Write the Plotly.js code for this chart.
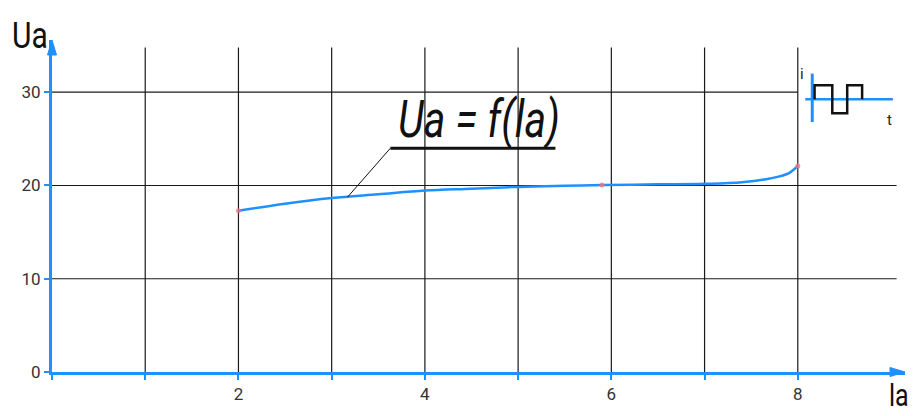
<!DOCTYPE html>
<html>
<head>
<meta charset="utf-8">
<script src="https://cdn.plot.ly/plotly-3.0.1.min.js"></script>
<style>
  html, body { margin: 0; padding: 0; background: #fff; }
  #chart { width: 915px; height: 416px; }
  /* tall, narrow lettering in the style of drafting type */
  .tall text.annotation-text {
    transform-box: fill-box;
    transform-origin: center;
    transform: scaleY(1.25);
  }
</style>
</head>
<body>
<div id="chart"></div>
<script>
// Anode voltage vs anode current characteristic
const currentIa = [2, 2.5, 3, 3.5, 4, 4.5, 5, 5.5, 5.9, 6.5, 7, 7.4, 7.7, 7.9, 8];
const voltageUa = [17.3, 18.05, 18.65, 19.05, 19.45, 19.65, 19.85, 19.97, 20.05, 20.12, 20.18, 20.35, 20.75, 21.3, 22.1];

// measured points marked on the curve
const pointIa = [2, 5.9, 8];
const pointUa = [17.3, 20.05, 22.1];

// axis ticks
const xTickVals = [0, 1, 2, 3, 4, 5, 6, 7, 8];
const xTickText = ['', '', '2', '', '4', '', '6', '', '8'];
const yTickVals = [0, 10, 20, 30];
const yTickText = ['0', '10', '20', '30'];

const BLUE = 'rgb(30,144,255)';
const FONT = 'Roboto, "Noto Sans", sans-serif';

const W = 915, H = 416;
const M = {l: 52, r: 10, t: 40, b: 44};
const X_MAX = 9.15, Y_MAX = 35.6;
const GRID_TOP = 34.8, GRID_RIGHT = 9.06;

// one screen pixel in paper units
const PX = 1 / (W - M.l - M.r);
const PY = 1 / (H - M.t - M.b);

const shapes = [];

// vertical grid lines
xTickVals.filter(v => v > 0).forEach(v => {
  shapes.push({type: 'line', xref: 'x', yref: 'y', x0: v, x1: v, y0: 0, y1: GRID_TOP,
    line: {color: '#1a1a1a', width: 1.2}, layer: 'below'});
});
// horizontal grid lines (top one stops at the inset)
yTickVals.filter(v => v > 0).forEach(v => {
  shapes.push({type: 'line', xref: 'x', yref: 'y', x0: 0, x1: v === 30 ? 8 : GRID_RIGHT, y0: v, y1: v,
    line: {color: '#1a1a1a', width: 1.2}, layer: 'below'});
});

// arrow heads at the ends of both axes (paper refs so they are not clipped)
const HW = 4.5, HL = 15;
const yHead = `M0,1 L${-HW * PX},${1 - HL * PY} L${HW * PX},${1 - HL * PY} Z`;
const xHead = `M1,0 L${1 - HL * PX},${HW * PY} L${1 - HL * PX},${-HW * PY} Z`;
shapes.push({type: 'path', xref: 'paper', yref: 'paper', path: yHead,
  fillcolor: BLUE, line: {color: BLUE, width: 1}});
shapes.push({type: 'path', xref: 'paper', yref: 'paper', path: xHead,
  fillcolor: BLUE, line: {color: BLUE, width: 1}});

// formula underline and leader to the curve
shapes.push({type: 'line', xref: 'x', yref: 'y', x0: 3.63, x1: 5.40, y0: 24.0, y1: 24.0,
  line: {color: '#111', width: 3}});
shapes.push({type: 'line', xref: 'x', yref: 'y', x0: 3.63, x1: 3.17, y0: 24.0, y1: 18.75,
  line: {color: '#111', width: 1}});

// pulse-mode inset: i(t) axes and square wave
shapes.push({type: 'line', xref: 'x', yref: 'y', x0: 8.155, x1: 8.155, y0: 26.8, y1: 32.0,
  line: {color: BLUE, width: 3}});
shapes.push({type: 'line', xref: 'x', yref: 'y', x0: 8.08, x1: 9.02, y0: 29.25, y1: 29.25,
  line: {color: BLUE, width: 2.5}});
shapes.push({type: 'path', xref: 'x', yref: 'y',
  path: 'M8.18,29.25 L8.18,30.75 L8.37,30.75 L8.37,27.75 L8.53,27.75 L8.53,30.75 L8.69,30.75 L8.69,29.25',
  line: {color: '#111', width: 2.5}});

const annotations = [
  {xref: 'paper', yref: 'paper', x: -0.049, y: 1.016, xanchor: 'left', yanchor: 'middle', showarrow: false,
   text: 'Ua', font: {family: FONT, size: 30, color: '#111'}},
  {xref: 'paper', yref: 'paper', x: 0.979, y: -0.072, xanchor: 'left', yanchor: 'middle', showarrow: false,
   text: 'la', font: {family: FONT, size: 25, color: '#111'}},
  {xref: 'x', yref: 'y', x: 4.58, y: 27.1, xanchor: 'center', yanchor: 'middle', showarrow: false,
   text: '<i>Ua = f(la)</i>', font: {family: FONT, size: 41, color: '#111'}},
  {xref: 'x', yref: 'y', x: 8.0, y: 32.0, xanchor: 'left', yanchor: 'middle', showarrow: false,
   text: 'i', font: {family: FONT, size: 15, color: '#222'}},
  {xref: 'x', yref: 'y', x: 8.98, y: 27.0, xanchor: 'center', yanchor: 'middle', showarrow: false,
   text: 't', font: {family: FONT, size: 15, color: '#222'}}
];

const traces = [
  {x: currentIa, y: voltageUa, type: 'scatter', mode: 'lines',
   line: {color: BLUE, width: 2.5, shape: 'spline', smoothing: 1}, hoverinfo: 'skip'},
  {x: pointIa, y: pointUa, type: 'scatter', mode: 'markers',
   marker: {color: 'rgba(255,110,130,0.75)', size: 5}, hoverinfo: 'skip'}
];

const layout = {
  width: W, height: H,
  margin: M,
  paper_bgcolor: '#fff', plot_bgcolor: '#fff',
  showlegend: false,
  font: {family: FONT, color: '#333'},
  xaxis: {
    range: [0, X_MAX], showgrid: false, zeroline: false,
    showline: true, linecolor: BLUE, linewidth: 3,
    ticks: 'outside', ticklen: 5, tickwidth: 2, tickcolor: BLUE,
    tickvals: xTickVals, ticktext: xTickText,
    tickfont: {family: FONT, size: 17, color: '#333'}
  },
  yaxis: {
    range: [0, Y_MAX], showgrid: false, zeroline: false,
    showline: true, linecolor: BLUE, linewidth: 3,
    ticks: 'outside', ticklen: 5, tickwidth: 2, tickcolor: BLUE,
    tickvals: yTickVals, ticktext: yTickText,
    tickfont: {family: FONT, size: 17, color: '#333'}
  },
  shapes: shapes,
  annotations: annotations
};

Plotly.newPlot('chart', traces, layout, {staticPlot: true, displayModeBar: false}).then(gd => {
  // stretch the axis names and the formula vertically
  [0, 1, 2].forEach(i => {
    const g = gd.querySelector(`g.annotation[data-index="${i}"]`);
    if (g) g.classList.add('tall');
  });
});
</script>
</body>
</html>
